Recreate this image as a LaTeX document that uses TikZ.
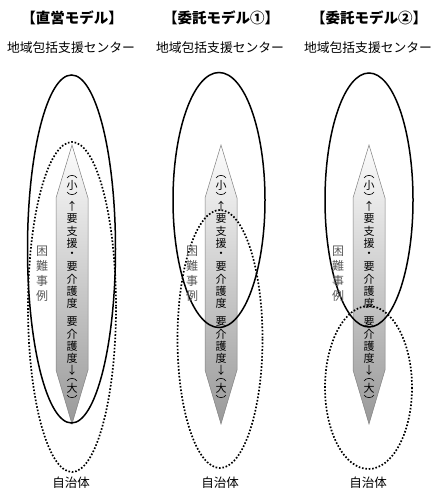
\documentclass[tikz,border=0pt]{standalone}
\usepackage{fontspec}
\newfontfamily\jp{Noto Sans CJK JP}
\tikzset{
  ttl/.style={font=\jp\bfseries\fontsize{14.5}{15}\selectfont, inner sep=0pt},
  sub/.style={font=\jp\fontsize{12.8}{13}\selectfont, inner sep=0pt},
  bot/.style={font=\jp\fontsize{12.5}{13}\selectfont, inner sep=0pt},
  solidell/.style={draw=black, line width=1.5pt},
  dotell/.style={draw=black, line width=1.7pt, dash pattern=on 1.6pt off 1.8pt},
  arrbody/.style={draw=black!50, line width=0.5pt, top color=gray!2, middle color=gray!28, bottom color=gray!80},
  ch/.style={font=\jp\fontsize{11}{11}\selectfont, inner sep=0pt, text=black},
  lab/.style={font=\jp\fontsize{12}{12}\selectfont, inner sep=0pt, text=black!65},
  paren/.style={draw=black, line width=0.6pt},
}
\newcommand\parens[2]{% x, y center
  \draw[paren] (#1-5,#2-7) .. controls (#1-3,#2-10.5) and (#1+3,#2-10.5) .. (#1+5,#2-7);
  \draw[paren] (#1-5,#2+7) .. controls (#1-3,#2+10.5) and (#1+3,#2+10.5) .. (#1+5,#2+7);
}
\begin{document}
\begin{tikzpicture}[x=1pt,y=-1pt]
\fill[white] (0,0) rectangle (434,492);
\useasboundingbox (0,0) rectangle (434,492);
\foreach \id/\ax/\scx/\scy/\srx/\sry/\dcx/\dcy/\drx/\dry/\lx/\ttext in {
  a/72/71.5/249/44/174/72/307/44/165/42/{【直営モデル】},
  b/221/219/200/46/127.5/220/339/42.5/129/192/{【委託モデル①】},
  c/369/369/200/44/127/368.5/387.5/43.5/81.5/338/{【委託モデル②】}}{
  % titles
  \node[ttl] (\id-title) at (\ax,18) {\ttext};
  \node[sub] (\id-sub) at (\ax-1,48) {地域包括支援センター};
  \node[bot] (\id-bot) at (\ax-1,483) {自治体};
  % arrow body
  \path[arrbody] (\ax,145) -- (\ax+16,198) -- (\ax+16,370) -- (\ax,424) -- (\ax-16,370) -- (\ax-16,198) -- cycle;
  % ellipses
  \draw[solidell] (\scx,\scy) ellipse [x radius=\srx, y radius=\sry];
  \draw[dotell] (\dcx,\dcy) ellipse [x radius=\drx, y radius=\dry];
  % text in arrow
  \foreach \cc/\cy [count=\ci] in {小/185,↑/206,要/219,支/231,援/243,・/255,要/267,介/279,護/291,度/303,要/322,介/334,護/346,度/358,↓/370,大/388}{
    \node[ch] (\id-t\ci) at (\ax,\cy) {\cc};
  }
  \parens{\ax}{185}
  \parens{\ax}{388}
  % label
  \foreach \cc/\cy [count=\ci] in {困/251,難/266,事/281,例/296}{
    \node[lab] (\id-l\ci) at (\lx,\cy) {\cc};
  }
}
\end{tikzpicture}
\end{document}
